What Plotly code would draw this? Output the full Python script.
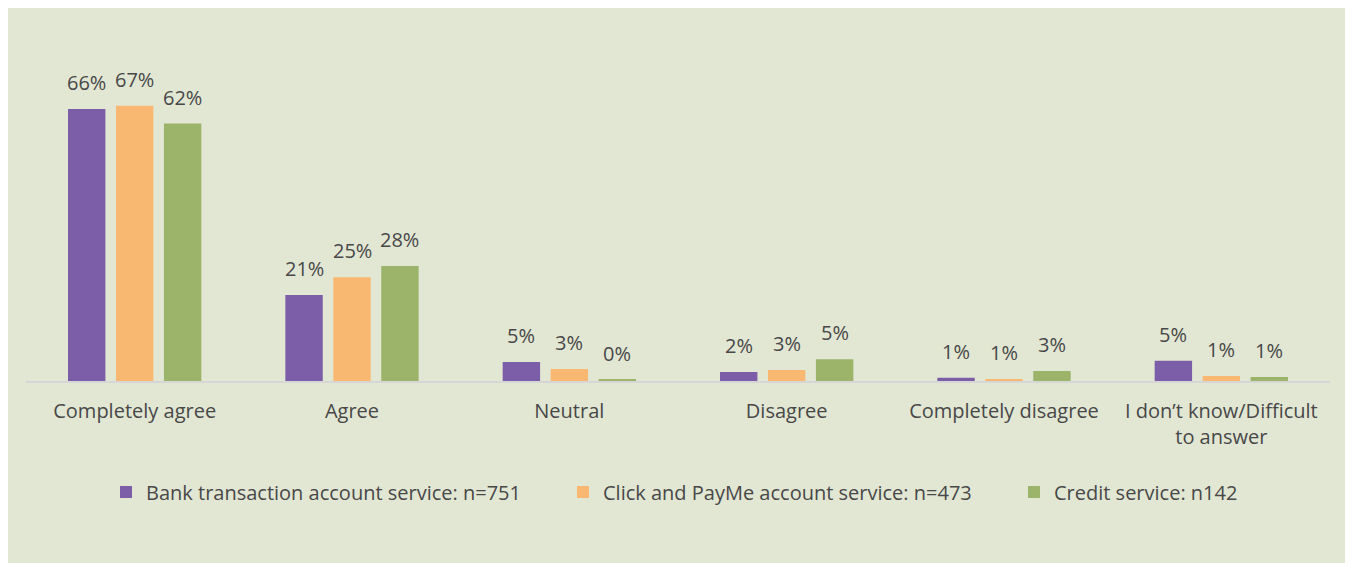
import plotly.graph_objects as go

categories = ["Completely agree", "Agree", "Neutral", "Disagree",
              "Completely disagree", "I don\u2019t know/Difficult<br>to answer"]
series_names = ["Bank transaction account service: n=751",
                "Click and PayMe account service: n=473",
                "Credit service: n142"]
bank_values = [66.0, 20.9, 4.6, 2.2, 0.8, 4.9]
click_values = [66.8, 25.2, 2.9, 2.7, 0.5, 1.2]
credit_values = [62.5, 27.9, 0.3, 5.3, 2.4, 1.0]
bank_labels = ["66%", "21%", "5%", "2%", "1%", "5%"]
click_labels = ["67%", "25%", "3%", "3%", "1%", "1%"]
credit_labels = ["62%", "28%", "0%", "5%", "3%", "1%"]

colors = ["#7B5EA7", "#F9B872", "#9BB469"]
text_color = "#484848"
bg_color = "#E2E7D4"
font_family = "'Open Sans', sans-serif"

W, H = 1342, 560
ml, mr, mt, mb = 18, 20, 22, 187
pw, ph = W - ml - mr, H - mt - mb
bargap = 0.338
legend_px = [98, 555, 1006]  # left edge of each legend box, figure pixels

all_values = [bank_values, click_values, credit_values]
all_labels = [bank_labels, click_labels, credit_labels]
legend_ids = ["legend", "legend2", "legend3"]

fig = go.Figure()
for name, vals, col, lg in zip(series_names, all_values, colors, legend_ids):
    fig.add_trace(go.Bar(x=categories, y=vals, name=name, marker_color=col,
                         marker_line_width=0, hoverinfo="skip", legend=lg))

# value labels above each bar
slot = (1 - bargap) / 3
for i, (vals, labels) in enumerate(zip(all_values, all_labels)):
    for j, (v, t) in enumerate(zip(vals, labels)):
        fig.add_annotation(x=j + (i - 1) * slot, y=v, xref="x", yref="y",
                           text=t, showarrow=False, yanchor="bottom", yshift=11,
                           font=dict(size=20, color=text_color, family=font_family))

legend_style = dict(orientation="h", xanchor="left",
                    y=(ph - (484 - mt)) / ph, yanchor="middle",
                    font=dict(size=20, color=text_color, family=font_family),
                    bgcolor="rgba(0,0,0,0)")
fig.update_layout(
    width=W, height=H,
    margin=dict(l=ml, r=mr, t=mt, b=mb),
    paper_bgcolor=bg_color, plot_bgcolor=bg_color,
    barmode="group", bargap=bargap, bargroupgap=0.22,
    font=dict(family=font_family, size=20, color=text_color),
    showlegend=True,
    legend=dict(x=(legend_px[0] - ml) / pw, **legend_style),
    legend2=dict(x=(legend_px[1] - ml) / pw, **legend_style),
    legend3=dict(x=(legend_px[2] - ml) / pw, **legend_style),
)
fig.update_xaxes(showline=True, linecolor="#D6D6D6", linewidth=2,
                 ticks="outside", ticklen=11, tickcolor="rgba(0,0,0,0)",
                 tickfont=dict(size=20, color=text_color), showgrid=False)
fig.update_yaxes(range=[0, 85.2], visible=False, showgrid=False)

fig.write_html("out.html")
